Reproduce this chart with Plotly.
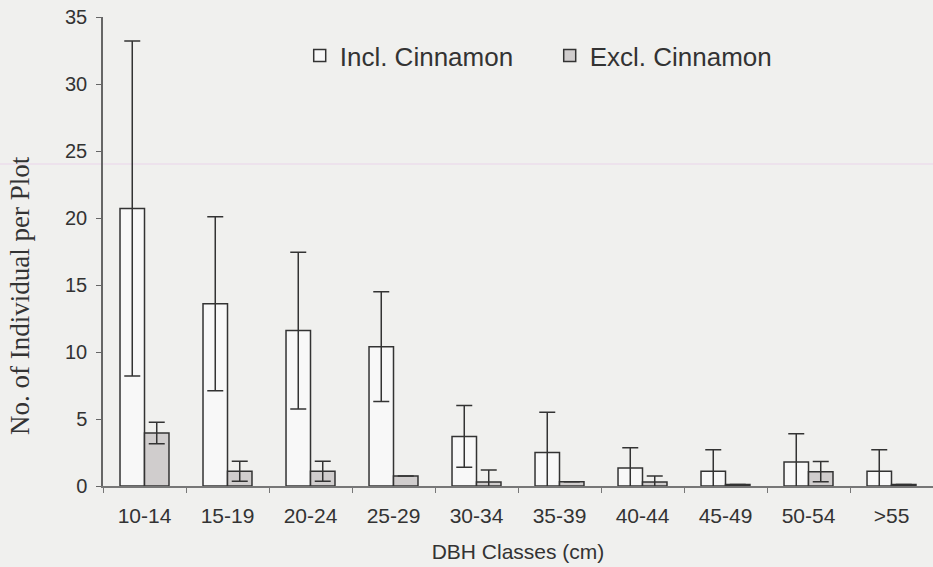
import plotly.graph_objects as go

categories = ["10-14", "15-19", "20-24", "25-29", "30-34", "35-39", "40-44", "45-49", "50-54", ">55"]
incl = [20.7, 13.6, 11.6, 10.4, 3.7, 2.5, 1.35, 1.1, 1.8, 1.1]
incl_err = [12.5, 6.5, 5.85, 4.1, 2.3, 3.0, 1.5, 1.6, 2.1, 1.6]
excl = [3.95, 1.1, 1.1, 0.75, 0.3, 0.32, 0.3, 0.12, 1.07, 0.12]
excl_err = [0.8, 0.75, 0.75, None, 0.9, None, 0.45, None, 0.75, None]

BG = "#f0f0ee"
INK = "#333333"

fig = go.Figure()
fig.add_trace(go.Bar(
    name="Incl. Cinnamon", x=categories, y=incl,
    marker=dict(color="#f8f8f8", line=dict(color=INK, width=1.5)),
    error_y=dict(type="data", array=incl_err, visible=True, color=INK, thickness=1.5, width=8),
))
fig.add_trace(go.Bar(
    name="Excl. Cinnamon", x=categories, y=excl,
    marker=dict(color="#d0cdcd", line=dict(color=INK, width=1.5)),
    error_y=dict(type="data", array=excl_err, visible=True, color=INK, thickness=1.5, width=8),
))

fig.update_layout(
    width=933, height=567,
    margin=dict(l=103, r=0, t=17, b=81),
    paper_bgcolor=BG, plot_bgcolor=BG,
    barmode="group", bargap=0.41, bargroupgap=0,
    font=dict(family="Liberation Sans, Arial, sans-serif", color=INK),
    legend=dict(
        orientation="h", x=0.237, y=0.968, xanchor="left", yanchor="top",
        font=dict(size=26, color=INK), bgcolor="rgba(0,0,0,0)",
        entrywidth=205, entrywidthmode="pixels",
    ),
    showlegend=True,
    shapes=[dict(type="line", xref="paper", yref="paper", x0=-0.13, x1=1,
                 y0=0.6866, y1=0.6866, line=dict(color="#ead3ea", width=1.2), layer="below")],
    annotations=[dict(
        text="No. of Individual per Plot", textangle=-90,
        xref="paper", yref="paper", x=-0.1, y=0.405, xanchor="center", yanchor="middle",
        showarrow=False,
        font=dict(family="Liberation Serif, Times New Roman, serif", size=27, color=INK),
    )],
)
fig.update_xaxes(
    type="category", showgrid=False, showline=True, linecolor="#777777", linewidth=1.5,
    ticks="outside", tickson="boundaries", ticklen=5, tickcolor="#777777",
    tickfont=dict(size=21, color=INK), ticklabelstandoff=10,
    title=dict(text="DBH Classes (cm)", font=dict(size=21, color=INK), standoff=18),
)
fig.update_yaxes(
    range=[0, 35], dtick=5, showgrid=False, zeroline=False,
    showline=True, linecolor="#666666", linewidth=1.5,
    ticks="outside", ticklen=5, tickcolor="#666666",
    tickfont=dict(size=20, color=INK), ticklabelstandoff=5,
)

fig.write_html("out.html")
